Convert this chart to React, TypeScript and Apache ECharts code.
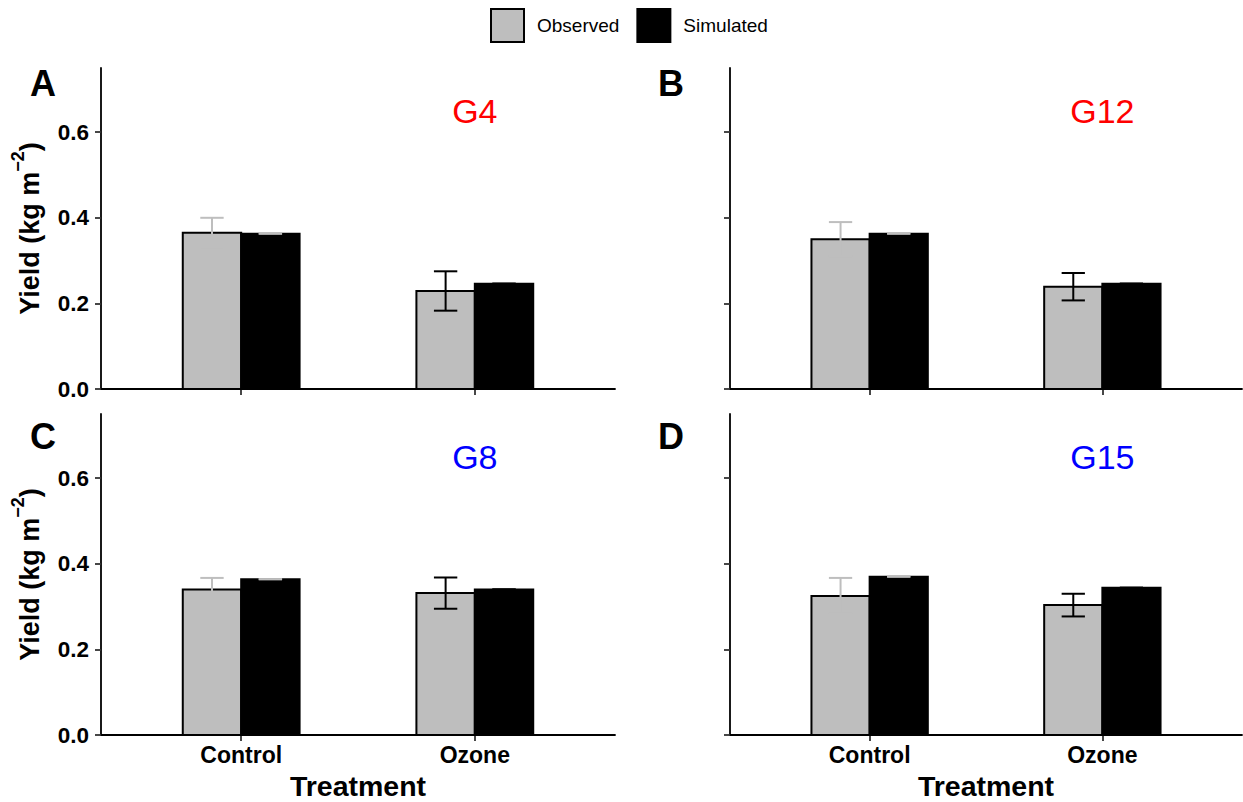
import React, { useEffect, useRef } from "react";
import * as echarts from "echarts";

const categories = ["Control", "Ozone"];
const panelLetters = ["A", "B", "C", "D"];
const genotypes = ["G4", "G12", "G8", "G15"];
const genotypeColors = ["#FF0000", "#FF0000", "#0000FF", "#0000FF"];
const yTicks = [0, 0.2, 0.4, 0.6];

// Observed means and standard errors, simulated values (per panel: Control, Ozone)
const observedA = [0.365, 0.229];
const observedSeA = [0.035, 0.046];
const simulatedA = [0.363, 0.246];

const observedB = [0.35, 0.239];
const observedSeB = [0.04, 0.032];
const simulatedB = [0.363, 0.246];

const observedC = [0.34, 0.3315];
const observedSeC = [0.027, 0.0365];
const simulatedC = [0.364, 0.34];

const observedD = [0.325, 0.3035];
const observedSeD = [0.042, 0.0265];
const simulatedD = [0.37, 0.344];

const observedAll = [observedA, observedB, observedC, observedD];
const observedSeAll = [observedSeA, observedSeB, observedSeC, observedSeD];
const simulatedAll = [simulatedA, simulatedB, simulatedC, simulatedD];

const FONT = "Liberation Sans, Arial, sans-serif";
const GREY = "#BEBEBE";
const errColors = [GREY, "#000000"];

const grids = [
  { left: 101, top: 68, width: 514, height: 321 },
  { left: 730, top: 68, width: 512, height: 321 },
  { left: 101, top: 414, width: 514, height: 321 },
  { left: 730, top: 414, width: 512, height: 321 },
];

function barRender(offset: number, fill: string) {
  return (params: any, api: any) => {
    const x = api.value(0);
    const v = api.value(1);
    const p0 = api.coord([x + offset, v]);
    const p1 = api.coord([x + offset + 0.25, 0]);
    return {
      type: "rect",
      shape: { x: p0[0], y: p0[1], width: p1[0] - p0[0], height: p1[1] - p0[1] },
      style: { fill, stroke: "#000", lineWidth: 2 },
    };
  };
}

function errRender(offset: number) {
  return (params: any, api: any) => {
    const x = api.value(0) + offset;
    const m = api.value(1);
    const se = api.value(2);
    const color = errColors[api.value(3)];
    const top = api.coord([x, m + se]);
    const bot = api.coord([x, m - se]);
    const l = api.coord([x - 0.05, m])[0];
    const r = api.coord([x + 0.05, m])[0];
    const style = { stroke: color, lineWidth: 2 };
    return {
      type: "group",
      children: [
        { type: "line", shape: { x1: top[0], y1: top[1], x2: bot[0], y2: bot[1] }, style },
        { type: "line", shape: { x1: l, y1: top[1], x2: r, y2: top[1] }, style },
        { type: "line", shape: { x1: l, y1: bot[1], x2: r, y2: bot[1] }, style },
      ],
    };
  };
}

export default function App() {
  const ref = useRef<HTMLDivElement>(null);
  useEffect(() => {
    if (!ref.current) return;
    const chart = echarts.init(ref.current, null, { renderer: "svg" });

    const xAxes: any[] = [];
    const yAxes: any[] = [];
    const series: any[] = [];
    const graphics: any[] = [];

    grids.forEach((g, i) => {
      const bottomRow = i >= 2;
      const leftCol = i % 2 === 0;
      xAxes.push({
        type: "value",
        gridIndex: i,
        min: 0.4,
        max: 2.6,
        axisLine: { show: true, lineStyle: { color: "#000", width: 1.8 } },
        axisTick: {
          show: true,
          length: 6,
          customValues: [1, 2],
          lineStyle: { color: "#333", width: 1.8 },
        },
        axisLabel: {
          show: bottomRow,
          customValues: [1, 2],
          formatter: (v: number) => categories[Math.round(v) - 1] || "",
          fontFamily: FONT,
          fontWeight: "bold",
          fontSize: 23,
          color: "#000",
          margin: 8,
        },
        splitLine: { show: false },
        name: bottomRow ? "Treatment" : "",
        nameLocation: "middle",
        nameGap: 36,
        nameTextStyle: { fontFamily: FONT, fontWeight: "bold", fontSize: 28.5, color: "#000" },
      });
      yAxes.push({
        type: "value",
        gridIndex: i,
        min: 0,
        max: 0.75,
        axisLine: { show: true, lineStyle: { color: "#000", width: 1.8 } },
        axisTick: {
          show: true,
          length: 6,
          customValues: yTicks,
          lineStyle: { color: "#333", width: 1.8 },
        },
        axisLabel: {
          show: leftCol,
          customValues: yTicks,
          formatter: (v: number) => v.toFixed(1),
          fontFamily: FONT,
          fontWeight: "bold",
          fontSize: 22.5,
          color: "#000",
          margin: 12,
        },
        splitLine: { show: false },
        name: leftCol ? "{a|Yield (kg m}{s|−2}{a|)}" : "",
        nameLocation: "middle",
        nameRotate: 90,
        nameGap: 58,
        nameTextStyle: {
          fontFamily: FONT,
          rich: {
            a: { fontFamily: FONT, fontWeight: "bold", fontSize: 27, color: "#000", lineHeight: 34, verticalAlign: "bottom" },
            s: { fontFamily: FONT, fontWeight: "bold", fontSize: 18, color: "#000", lineHeight: 34, verticalAlign: "top" },
          },
        },
      });

      const obs = observedAll[i];
      const se = observedSeAll[i];
      const sim = simulatedAll[i];

      series.push({
        type: "custom",
        name: "Observed",
        xAxisIndex: i,
        yAxisIndex: i,
        itemStyle: { color: GREY, borderColor: "#000" },
        renderItem: barRender(-0.25, GREY),
        data: categories.map((c, k) => [k + 1, obs[k]]),
      });
      series.push({
        type: "custom",
        name: "Simulated",
        xAxisIndex: i,
        yAxisIndex: i,
        itemStyle: { color: "#000", borderColor: "#000" },
        renderItem: barRender(0, "#000"),
        data: categories.map((c, k) => [k + 1, sim[k]]),
      });
      series.push({
        type: "custom",
        name: "obsErr" + i,
        xAxisIndex: i,
        yAxisIndex: i,
        renderItem: errRender(-0.125),
        data: categories.map((c, k) => [k + 1, obs[k], se[k], k]),
      });
      series.push({
        type: "custom",
        name: "simErr" + i,
        xAxisIndex: i,
        yAxisIndex: i,
        renderItem: errRender(0.125),
        data: categories.map((c, k) => [k + 1, sim[k], 0, k]),
      });
      series.push({
        type: "custom",
        name: "label" + i,
        xAxisIndex: i,
        yAxisIndex: i,
        renderItem: (params: any, api: any) => {
          const p = api.coord([api.value(0), api.value(1)]);
          return {
            type: "text",
            x: p[0],
            y: p[1],
            style: {
              text: genotypes[i],
              fill: genotypeColors[i],
              fontSize: 34,
              fontFamily: FONT,
              align: "center",
              verticalAlign: "middle",
            },
          };
        },
        data: [[2, 0.65]],
      });

      graphics.push({
        type: "text",
        left: leftCol ? 30 : 658,
        top: bottomRow ? 418 : 65,
        style: {
          text: panelLetters[i],
          fontSize: 36,
          fontWeight: "bold",
          fontFamily: FONT,
          fill: "#000",
        },
      });
    });

    chart.setOption({
      animation: false,
      backgroundColor: "#fff",
      legend: {
        top: 3,
        left: 485,
        icon: "rect",
        itemWidth: 33,
        itemHeight: 33,
        itemGap: 17,
        selectedMode: false,
        textStyle: { fontFamily: FONT, fontSize: 19, color: "#000", padding: [0, 0, 0, 8] },
        data: [
          { name: "Observed", itemStyle: { color: GREY, borderColor: "#000", borderWidth: 2 } },
          { name: "Simulated", itemStyle: { color: "#000", borderColor: "#000", borderWidth: 2 } },
        ],
      },
      grid: grids,
      xAxis: xAxes,
      yAxis: yAxes,
      series,
      graphic: graphics,
    });
    return () => chart.dispose();
  }, []);
  return (
    <div
      ref={ref}
      style={{ position: "absolute", left: 0, top: 0, width: 1243, height: 802 }}
    />
  );
}
